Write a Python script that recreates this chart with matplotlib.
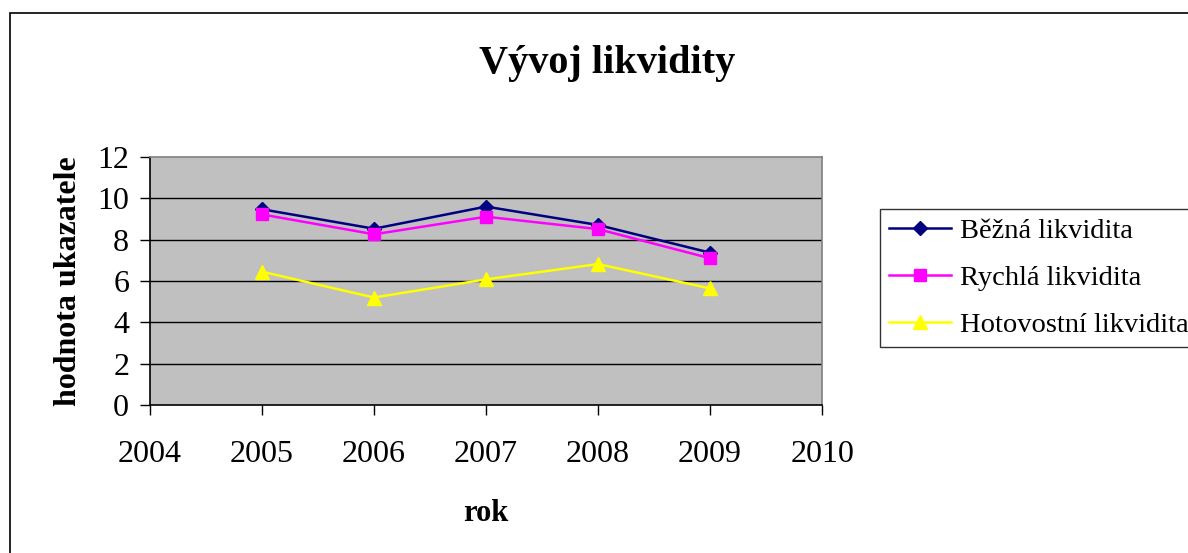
import matplotlib
matplotlib.use("Agg")
import matplotlib.pyplot as plt
from matplotlib.patches import Rectangle

# ── Data ──────────────────────────────────────────────────────────────────────
years       = [2005, 2006, 2007, 2008, 2009]
bezna       = [9.47, 8.53, 9.60, 8.71, 7.37]
rychla      = [9.22, 8.26, 9.11, 8.51, 7.10]
hotovostni  = [6.45, 5.20, 6.08, 6.82, 5.64]

x_ticks = [2004, 2005, 2006, 2007, 2008, 2009, 2010]
y_ticks = [0, 2, 4, 6, 8, 10, 12]

plt.rcParams["font.family"] = ["Liberation Serif", "DejaVu Serif"]

fig = plt.figure(figsize=(11.88, 5.53), dpi=100)
ax = fig.add_axes([0.1263, 0.2676, 0.5657, 0.4485])

# outer chart-area border (runs past right/bottom edge of the image)
fig.patches.append(Rectangle((10 / 1188, -0.05), 1.2, (553 - 13) / 553 + 0.05,
                             transform=fig.transFigure, fill=False,
                             edgecolor="black", lw=1.2, clip_on=False))

ax.set_facecolor("#C0C0C0")
for y in y_ticks[1:-1]:
    ax.axhline(y, color="black", lw=1.0, zorder=1)

ax.plot(years, bezna, color="#000080", marker="D", ms=7, lw=1.8,
        label="Běžná likvidita", zorder=3)
ax.plot(years, rychla, color="#FF00FF", marker="s", ms=8, lw=1.8,
        label="Rychlá likvidita", zorder=4)
ax.plot(years, hotovostni, color="#FFFF00", marker="^", ms=10, lw=1.8,
        label="Hotovostní likvidita", zorder=3)

ax.set_xlim(2004, 2010)
ax.set_ylim(0, 12)
ax.set_xticks(x_ticks)
ax.set_yticks(y_ticks)
ax.tick_params(axis="both", labelsize=23, length=7, width=1, color="black",
               direction="out")
ax.tick_params(axis="x", pad=18)
ax.tick_params(axis="y", pad=8)

for side in ["left", "bottom"]:
    ax.spines[side].set_color("black")
    ax.spines[side].set_linewidth(1.2)
for side in ["top", "right"]:
    ax.spines[side].set_color("#808080")
    ax.spines[side].set_linewidth(1.2)

ax.set_xlabel("rok", fontsize=22, fontweight="bold", labelpad=22)
ax.set_ylabel("hodnota ukazatele", fontsize=23, fontweight="bold", labelpad=10)

fig.text(607 / 1188, 1 - 64 / 553, "Vývoj likvidity", fontsize=29,
         fontweight="bold", ha="center", va="center")

leg = fig.legend(loc="center left", bbox_to_anchor=(880 / 1188, 1 - 278 / 553),
                 fontsize=20.5, frameon=True, fancybox=False, edgecolor="black",
                 handlelength=2.2, handletextpad=0.3, labelspacing=0.75,
                 borderpad=0.3, borderaxespad=0)
leg.get_frame().set_linewidth(1.0)

fig.savefig("out.png", dpi=100)
